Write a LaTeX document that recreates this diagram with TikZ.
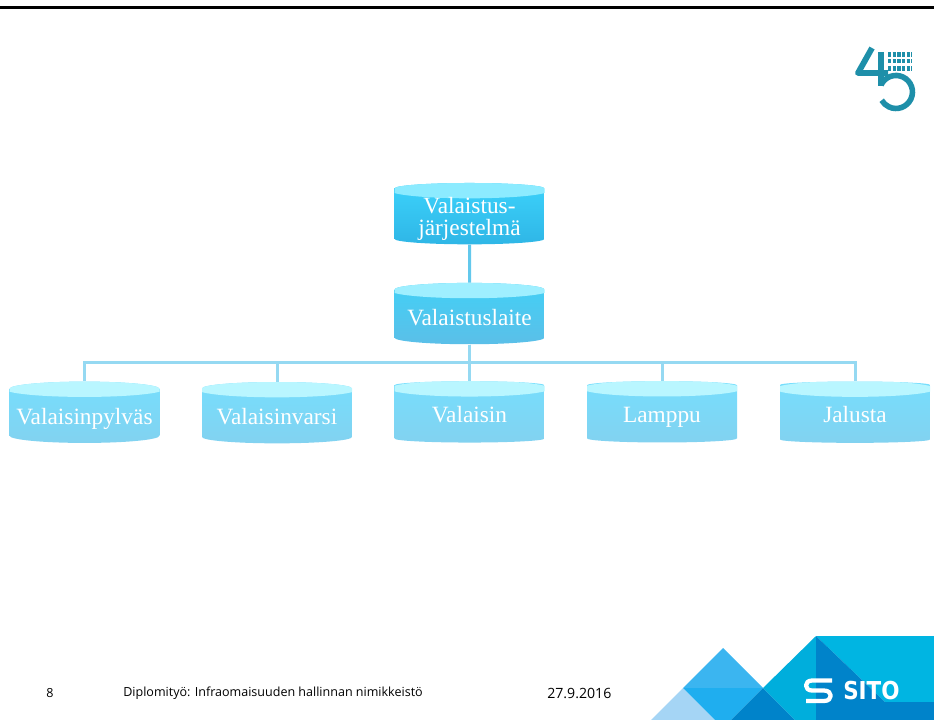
\documentclass[tikz,border=0pt]{standalone}
\usepackage{fontspec}
\setmainfont{Liberation Serif}
\newfontfamily\footfont{Open Sans}
\newfontfamily\brandfont[FakeStretch=0.87]{DejaVu Sans}
\usepackage{xcolor}
\usetikzlibrary{positioning, shapes.geometric}

\definecolor{topdark}{HTML}{3CD2FB}
\definecolor{topdarkb}{HTML}{2FB6E6}
\definecolor{topface}{HTML}{8CEBFF}
\definecolor{middark}{HTML}{42D0F6}
\definecolor{middarkb}{HTML}{5BBFE8}
\definecolor{midface}{HTML}{9FEFFF}
\definecolor{lowdark}{HTML}{76DEFD}
\definecolor{lowdarkb}{HTML}{82D2F0}
\definecolor{lowface}{HTML}{B9F6FF}
\definecolor{logoteal}{HTML}{1E8FA9}

\begin{document}
\begin{tikzpicture}[
    x=0.75pt, y=-0.75pt,
    drum/.style n args={3}{shape=cylinder, shape border rotate=90, aspect=0.106,
        minimum width=112.5pt, minimum height=46pt, inner sep=0pt,
        text=white, font=\fontsize{17.5}{17}\selectfont, align=center, text depth=0pt,
        path picture={
            \shade[top color=#1, bottom color=#2]
                (path picture bounding box.south west) rectangle (path picture bounding box.north east);
            \fill[#3] ([yshift=-5.5pt]path picture bounding box.north) ellipse (60pt and 6pt);
        }},
    toprow/.style={drum={topdark}{topdarkb}{topface}},
    midrow/.style={drum={middark}{middarkb}{midface}, text height=12pt},
    lowrow/.style={drum={lowdark}{lowdarkb}{lowface}, text height=12pt},
    link/.style={line width=2.25pt}
]
\useasboundingbox (0,0) rectangle (934,720);

% Top rule
\coordinate (ruleleft) at (0,7.5);
\coordinate (ruleright) at (934,7.5);
\draw [line width=1.9pt] (ruleleft) -- (ruleright);

% Hierarchy
\node (system) [toprow] at (469.5,216.5) {Valaistus-\\[-0.5pt]järjestelmä};
\node (device) [midrow] at (469.5,317) {Valaistuslaite};
\node (pole) [lowrow] at (84.5,416) {Valaisinpylväs};
\node (arm) [lowrow] at (277,416) {Valaisinvarsi};
\node (luminaire) [lowrow] at (469.5,414) {Valaisin};
\node (lamp) [lowrow] at (662,414) {Lamppu};
\node (base) [lowrow] at (855,414) {Jalusta};

% Connectors
\coordinate (bus) at (469.5,362);
\draw [link, color=topdarkb!75] (system.south) -- (device.north);
\foreach \leaf in {pole, arm, luminaire, lamp, base}
    \draw [link, color=lowdarkb!85] (device.south) -- (bus) -| (\leaf.north);

% Footer
\node (pagenum) [font=\footfont\fontsize{9.4}{11}\selectfont, anchor=center] at (50,693) {8};
\node (title) [font=\footfont\fontsize{9.4}{11}\selectfont, anchor=west, inner sep=0pt] at (123,693) {Diplomityö: Infraomaisuuden hallinnan nimikkeistö};
\node (date) [font=\footfont\fontsize{10.6}{11}\selectfont, anchor=west, inner sep=0pt] at (547,693.5) {27.9.2016};

% Corner triangles
\fill [color={rgb,255:red,165;green,213;blue,245}] (683,688) -- (715,720) -- (651,720) -- cycle;
\fill [color={rgb,255:red,59;green,181;blue,240}] (723,648) -- (763,688) -- (683,688) -- cycle;
\fill [color={rgb,255:red,31;green,174;blue,239}] (683,688) -- (763,688) -- (731,720) -- (715,720) -- cycle;
\fill [color={rgb,255:red,0;green,131;blue,202}] (763,688) -- (795,720) -- (731,720) -- cycle;
\fill [color={rgb,255:red,0;green,174;blue,220}] (816,636) -- (816,720) -- (795,720) -- (763,688) -- cycle;
\fill [color={rgb,255:red,0;green,181;blue,226}] (816,636) -- (934,636) -- (934,702) -- (885,702) -- cycle;
\fill [color={rgb,255:red,0;green,131;blue,202}] (816,636) -- (885,702) -- (934,702) -- (934,720) -- (816,720) -- cycle;

% Company mark
\draw [white, line width=3.2pt, line join=round] (832,680.5) -- (812,680.5) .. controls (804,680.5) and (804,690.5) .. (812,690.5) -- (824,690.5) .. controls (833,690.5) and (833,701) .. (824,701) -- (806,701);
\node (brand) [white, font=\brandfont\bfseries\fontsize{18.5}{18}\selectfont, anchor=west, inner sep=0pt] at (843,691) {SITO};

% Anniversary mark
\draw [logoteal, line width=4.4pt, line join=round] (872,48) -- (858,73) -- (888,73);
\draw [logoteal, line width=4pt] (881,52) -- (881,86);
\draw [logoteal, line width=4.2pt] (881,85) arc[start angle=-155, end angle=150, radius=16.5];
\foreach \row in {54.5,61,68.5}
    \draw [logoteal, line width=3.7pt, dash pattern=on 2.6pt off 0.9pt] (888,\row) -- (912,\row);

\end{tikzpicture}
\end{document}
